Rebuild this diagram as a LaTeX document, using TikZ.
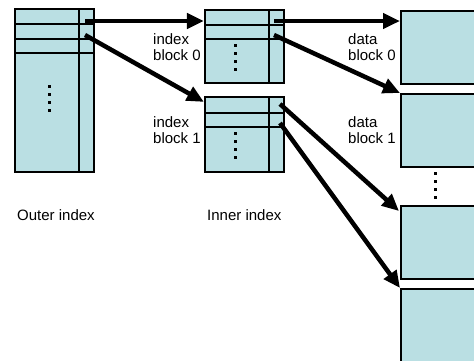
\documentclass[tikz,border=0pt]{standalone}
\usepackage{fontspec}
\setmainfont{Liberation Sans}
\usetikzlibrary{arrows.meta,calc}
\definecolor{blockfill}{RGB}{186,223,227}
\begin{document}
\begin{tikzpicture}[x=1pt,y=-1pt,
  blk/.style={draw=black,fill=blockfill,line width=2.2pt,inner sep=0pt},
  sep/.style={line width=2pt},
  ptr/.style={line width=4.5pt,-{Triangle[length=17pt,width=15pt]}},
  dots/.style={line width=3pt,dash pattern=on 3pt off 5pt},
  lbl/.style={font=\fontsize{15}{16}\selectfont,align=left,inner sep=0pt}]
\useasboundingbox (0,0) rectangle (474,360);
\clip (0,0) rectangle (474,360);
% outer index
\node[blk,minimum width=79pt,minimum height=163pt] (outer) at (54.5,90.5) {};
\draw[sep] (15,24) -- (94,24) (15,39) -- (94,39) (15,53) -- (94,53) (79,9) -- (79,172);
\draw[dots] (49,85) -- (49,112);
% inner index blocks
\node[blk,minimum width=79pt,minimum height=73pt] (in0) at (244.5,46.5) {};
\draw[sep] (205,25) -- (284,25) (205,39) -- (284,39) (269,10) -- (269,83);
\draw[dots] (235,44) -- (235,71);
\node[blk,minimum width=79pt,minimum height=75pt] (in1) at (244.5,134.5) {};
\draw[sep] (205,113) -- (284,113) (205,127) -- (284,127) (269,97) -- (269,172);
\draw[dots] (235,132) -- (235,159);
% data blocks
\node[blk,minimum width=120pt,minimum height=73pt,anchor=north west] (d0) at (400,10) {};
\node[blk,minimum width=120pt,minimum height=73pt,anchor=north west] (d1) at (400,93) {};
\node[blk,minimum width=120pt,minimum height=73pt,anchor=north west] (d2) at (400,205) {};
\node[blk,minimum width=120pt,minimum height=120pt,anchor=north west] (d3) at (400,288) {};
\draw[dots] (435,172) -- (435,199);
% labels
\node[lbl,anchor=west] (l0) at (153,47) {index\\block 0};
\node[lbl,anchor=west] (l1) at (153,130) {index\\block 1};
\node[lbl,anchor=west] (l2) at (348,47) {data\\block 0};
\node[lbl,anchor=west] (l3) at (348,130) {data\\block 1};
\node[lbl,anchor=west] (l4) at (17,215) {Outer index};
\node[lbl,anchor=west] (l5) at (207,215) {Inner index};
% pointer sources
\coordinate (o0) at (85,21);
\coordinate (o1) at (85,35);
\coordinate (i00) at (274,21);
\coordinate (i01) at (274,35);
\coordinate (i10) at (280,104);
\coordinate (i11) at (280,123);
% pointer targets
\coordinate (t0) at (in0.west |- o0);
\coordinate (t1) at ($(in1.north west)+(0,6)$);
\coordinate (t2) at (d0.west |- i00);
\coordinate (t3) at (d1.north west);
\coordinate (t4) at ($(d2.north west)+(-1,6)$);
\coordinate (t5) at (d3.north west);
\draw[ptr] (o0) -- (t0);
\draw[ptr] (o1) -- (t1);
\draw[ptr] (i00) -- (t2);
\draw[ptr] (i01) -- (t3);
\draw[ptr] (i10) -- (t4);
\draw[ptr] (i11) -- (t5);
\end{tikzpicture}
\end{document}
